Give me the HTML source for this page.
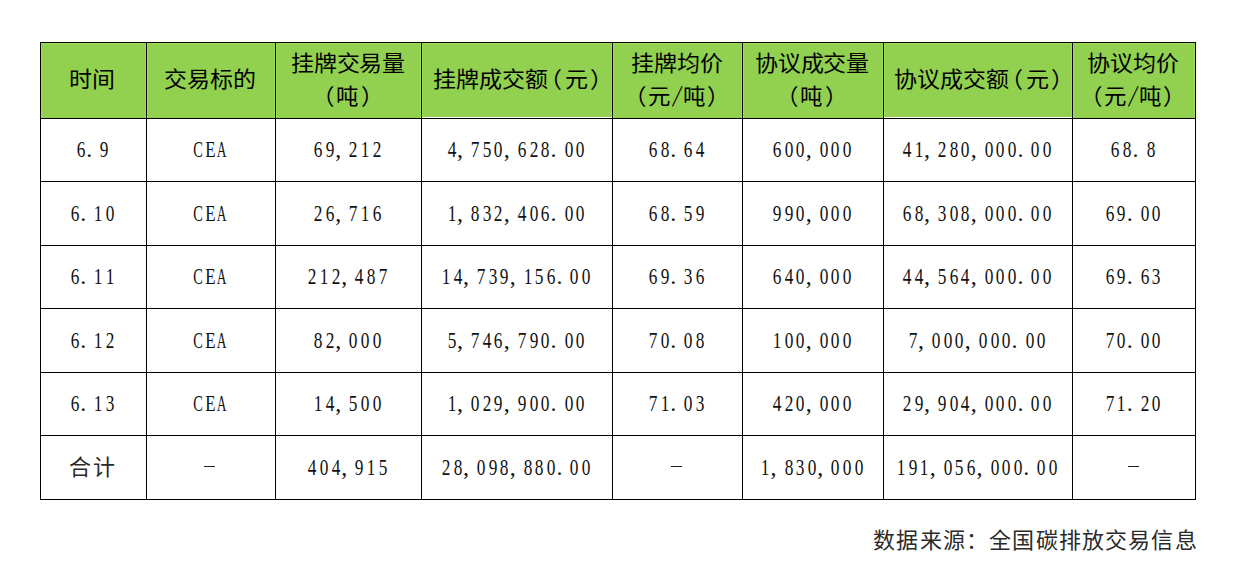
<!DOCTYPE html><html lang="zh-CN"><head><meta charset="utf-8"><style>
*{margin:0;padding:0;box-sizing:border-box}
i,b{font-style:normal;font-weight:normal}
html,body{width:1246px;height:585px;background:#fff;overflow:hidden}
body{position:relative;font-family:"Liberation Sans",sans-serif;color:#000}
.v{position:absolute;width:1px;background:#000}
.h{position:absolute;height:1px;background:#000}
.g{position:absolute;background:#92d050}
.c{position:absolute;display:flex;align-items:center;justify-content:center;text-align:center;white-space:nowrap}
.hd{font-family:"Liberation Sans",sans-serif;font-size:22px;line-height:33px;text-spacing-trim:space-all}
.hd>span{display:inline-block;transform:scaleX(1.045);position:relative;top:-1px;left:-1px}
.l2{display:inline-block;transform:scaleX(0.975)}
.op{margin-right:1.5px}.cp{margin-left:1.8px}.om{margin-left:-9px}.cm{margin-right:-13.7px;margin-left:0.5px}
.sl{display:inline-flex;width:12px;justify-content:center}.sl b{display:block;transform:scaleX(0.47);-webkit-text-stroke:0.6px #000}
.bd{font-family:"Liberation Serif",serif;font-size:24px;line-height:24px;margin-left:-1px;color:#111}
.cj{font-size:22px;text-spacing-trim:space-all;color:#2a2a2a}
.d{display:inline-flex;width:11.7px;justify-content:center}
.d b{font-weight:normal;display:inline-block;transform:scaleX(0.72);position:relative;top:-1px}
.p{display:inline-flex;width:11.7px;justify-content:flex-start}
.p b{font-weight:normal;display:inline-block;margin-left:-0.5px;position:relative;top:-1px}
.l{display:inline-flex;width:11.7px;justify-content:center}
.l b{font-weight:normal;display:inline-block;position:relative;top:-1px}
.dash{position:absolute;height:1px;background:#222;width:11px}
.ft{position:absolute;text-spacing-trim:space-all;font-family:"Liberation Serif",serif;font-size:22px;line-height:22px;letter-spacing:1.19px;white-space:nowrap;color:#2a2a2a}
</style></head><body>
<div class="g" style="left:41px;top:43px;width:1154px;height:75px"></div>
<div style="position:absolute;left:41px;top:43px;width:1px;height:75px;background:#9fe05a"></div>
<div style="position:absolute;left:145px;top:43px;width:1px;height:75px;background:#9fe05a"></div>
<div style="position:absolute;left:147px;top:43px;width:1px;height:75px;background:#9fe05a"></div>
<div style="position:absolute;left:274px;top:43px;width:1px;height:75px;background:#9fe05a"></div>
<div style="position:absolute;left:276px;top:43px;width:1px;height:75px;background:#9fe05a"></div>
<div style="position:absolute;left:420px;top:43px;width:1px;height:75px;background:#9fe05a"></div>
<div style="position:absolute;left:422px;top:43px;width:1px;height:75px;background:#9fe05a"></div>
<div style="position:absolute;left:611px;top:43px;width:1px;height:75px;background:#9fe05a"></div>
<div style="position:absolute;left:613px;top:43px;width:1px;height:75px;background:#9fe05a"></div>
<div style="position:absolute;left:741px;top:43px;width:1px;height:75px;background:#9fe05a"></div>
<div style="position:absolute;left:743px;top:43px;width:1px;height:75px;background:#9fe05a"></div>
<div style="position:absolute;left:882px;top:43px;width:1px;height:75px;background:#9fe05a"></div>
<div style="position:absolute;left:884px;top:43px;width:1px;height:75px;background:#9fe05a"></div>
<div style="position:absolute;left:1071px;top:43px;width:1px;height:75px;background:#9fe05a"></div>
<div style="position:absolute;left:1073px;top:43px;width:1px;height:75px;background:#9fe05a"></div>
<div style="position:absolute;left:1194px;top:43px;width:1px;height:75px;background:#9fe05a"></div>
<div style="position:absolute;left:41px;top:43px;width:1154px;height:1px;background:#9fe05a"></div>
<div style="position:absolute;left:422px;top:117px;width:190px;height:1px;background:#fff"></div>
<div style="position:absolute;left:884px;top:117px;width:188px;height:1px;background:#fff"></div>
<div style="position:absolute;left:41px;top:117px;width:1154px;height:0px"></div>
<div class="v" style="left:40px;top:42px;height:458px"></div>
<div class="v" style="left:146px;top:42px;height:458px"></div>
<div class="v" style="left:275px;top:42px;height:458px"></div>
<div class="v" style="left:421px;top:42px;height:458px"></div>
<div class="v" style="left:612px;top:42px;height:458px"></div>
<div class="v" style="left:742px;top:42px;height:458px"></div>
<div class="v" style="left:883px;top:42px;height:458px"></div>
<div class="v" style="left:1072px;top:42px;height:458px"></div>
<div class="v" style="left:1195px;top:42px;height:458px"></div>
<div class="h" style="left:40px;top:42px;width:1156px"></div>
<div class="h" style="left:40px;top:118px;width:1156px"></div>
<div class="h" style="left:40px;top:181px;width:1156px"></div>
<div class="h" style="left:40px;top:245px;width:1156px"></div>
<div class="h" style="left:40px;top:308px;width:1156px"></div>
<div class="h" style="left:40px;top:372px;width:1156px"></div>
<div class="h" style="left:40px;top:435px;width:1156px"></div>
<div class="h" style="left:40px;top:499px;width:1156px"></div>
<div class="c hd" style="left:41px;top:43px;width:105px;height:75px"><span style="left:-2px">时间</span></div>
<div class="c hd" style="left:147px;top:43px;width:128px;height:75px"><span>交易标的</span></div>
<div class="c hd" style="left:276px;top:43px;width:145px;height:75px"><span>挂牌交易量<br><i class="l2"><i class="op">（</i>吨<i class="cp">）</i></i></span></div>
<div class="c hd" style="left:422px;top:43px;width:190px;height:75px"><span>挂牌成交额<i class="op om"><i class="op">（</i></i>元<i class="cp cm"><i class="cp">）</i></i></span></div>
<div class="c hd" style="left:613px;top:43px;width:129px;height:75px"><span>挂牌均价<br><i class="l2"><i class="op">（</i>元<i class="sl"><b>／</b></i>吨<i class="cp">）</i></i></span></div>
<div class="c hd" style="left:743px;top:43px;width:140px;height:75px"><span>协议成交量<br><i class="l2"><i class="op">（</i>吨<i class="cp">）</i></i></span></div>
<div class="c hd" style="left:884px;top:43px;width:188px;height:75px"><span>协议成交额<i class="op om"><i class="op">（</i></i>元<i class="cp cm"><i class="cp">）</i></i></span></div>
<div class="c hd" style="left:1073px;top:43px;width:122px;height:75px"><span>协议均价<br><i class="l2"><i class="op">（</i>元<i class="sl"><b>／</b></i>吨<i class="cp">）</i></i></span></div>
<div class="c bd" style="left:41px;top:119px;width:105px;height:62px"><i class="d"><b>6</b></i><i class="p"><b>.</b></i><i class="d"><b>9</b></i></div>
<div class="c bd" style="left:147px;top:119px;width:128px;height:62px"><i class="l"><b style="transform:scaleX(0.6)">C</b></i><i class="l"><b style="transform:scaleX(0.7)">E</b></i><i class="l"><b style="transform:scaleX(0.56)">A</b></i></div>
<div class="c bd" style="left:276px;top:119px;width:145px;height:62px"><i class="d"><b>6</b></i><i class="d"><b>9</b></i><i class="p"><b>,</b></i><i class="d"><b>2</b></i><i class="d"><b>1</b></i><i class="d"><b>2</b></i></div>
<div class="c bd" style="left:422px;top:119px;width:190px;height:62px"><i class="d"><b>4</b></i><i class="p"><b>,</b></i><i class="d"><b>7</b></i><i class="d"><b>5</b></i><i class="d"><b>0</b></i><i class="p"><b>,</b></i><i class="d"><b>6</b></i><i class="d"><b>2</b></i><i class="d"><b>8</b></i><i class="p"><b>.</b></i><i class="d"><b>0</b></i><i class="d"><b>0</b></i></div>
<div class="c bd" style="left:613px;top:119px;width:129px;height:62px"><i class="d"><b>6</b></i><i class="d"><b>8</b></i><i class="p"><b>.</b></i><i class="d"><b>6</b></i><i class="d"><b>4</b></i></div>
<div class="c bd" style="left:743px;top:119px;width:140px;height:62px"><i class="d"><b>6</b></i><i class="d"><b>0</b></i><i class="d"><b>0</b></i><i class="p"><b>,</b></i><i class="d"><b>0</b></i><i class="d"><b>0</b></i><i class="d"><b>0</b></i></div>
<div class="c bd" style="left:884px;top:119px;width:188px;height:62px"><i class="d"><b>4</b></i><i class="d"><b>1</b></i><i class="p"><b>,</b></i><i class="d"><b>2</b></i><i class="d"><b>8</b></i><i class="d"><b>0</b></i><i class="p"><b>,</b></i><i class="d"><b>0</b></i><i class="d"><b>0</b></i><i class="d"><b>0</b></i><i class="p"><b>.</b></i><i class="d"><b>0</b></i><i class="d"><b>0</b></i></div>
<div class="c bd" style="left:1073px;top:119px;width:122px;height:62px"><i class="d"><b>6</b></i><i class="d"><b>8</b></i><i class="p"><b>.</b></i><i class="d"><b>8</b></i></div>
<div class="c bd" style="left:41px;top:182px;width:105px;height:63px"><i class="d"><b>6</b></i><i class="p"><b>.</b></i><i class="d"><b>1</b></i><i class="d"><b>0</b></i></div>
<div class="c bd" style="left:147px;top:182px;width:128px;height:63px"><i class="l"><b style="transform:scaleX(0.6)">C</b></i><i class="l"><b style="transform:scaleX(0.7)">E</b></i><i class="l"><b style="transform:scaleX(0.56)">A</b></i></div>
<div class="c bd" style="left:276px;top:182px;width:145px;height:63px"><i class="d"><b>2</b></i><i class="d"><b>6</b></i><i class="p"><b>,</b></i><i class="d"><b>7</b></i><i class="d"><b>1</b></i><i class="d"><b>6</b></i></div>
<div class="c bd" style="left:422px;top:182px;width:190px;height:63px"><i class="d"><b>1</b></i><i class="p"><b>,</b></i><i class="d"><b>8</b></i><i class="d"><b>3</b></i><i class="d"><b>2</b></i><i class="p"><b>,</b></i><i class="d"><b>4</b></i><i class="d"><b>0</b></i><i class="d"><b>6</b></i><i class="p"><b>.</b></i><i class="d"><b>0</b></i><i class="d"><b>0</b></i></div>
<div class="c bd" style="left:613px;top:182px;width:129px;height:63px"><i class="d"><b>6</b></i><i class="d"><b>8</b></i><i class="p"><b>.</b></i><i class="d"><b>5</b></i><i class="d"><b>9</b></i></div>
<div class="c bd" style="left:743px;top:182px;width:140px;height:63px"><i class="d"><b>9</b></i><i class="d"><b>9</b></i><i class="d"><b>0</b></i><i class="p"><b>,</b></i><i class="d"><b>0</b></i><i class="d"><b>0</b></i><i class="d"><b>0</b></i></div>
<div class="c bd" style="left:884px;top:182px;width:188px;height:63px"><i class="d"><b>6</b></i><i class="d"><b>8</b></i><i class="p"><b>,</b></i><i class="d"><b>3</b></i><i class="d"><b>0</b></i><i class="d"><b>8</b></i><i class="p"><b>,</b></i><i class="d"><b>0</b></i><i class="d"><b>0</b></i><i class="d"><b>0</b></i><i class="p"><b>.</b></i><i class="d"><b>0</b></i><i class="d"><b>0</b></i></div>
<div class="c bd" style="left:1073px;top:182px;width:122px;height:63px"><i class="d"><b>6</b></i><i class="d"><b>9</b></i><i class="p"><b>.</b></i><i class="d"><b>0</b></i><i class="d"><b>0</b></i></div>
<div class="c bd" style="left:41px;top:246px;width:105px;height:62px"><i class="d"><b>6</b></i><i class="p"><b>.</b></i><i class="d"><b>1</b></i><i class="d"><b>1</b></i></div>
<div class="c bd" style="left:147px;top:246px;width:128px;height:62px"><i class="l"><b style="transform:scaleX(0.6)">C</b></i><i class="l"><b style="transform:scaleX(0.7)">E</b></i><i class="l"><b style="transform:scaleX(0.56)">A</b></i></div>
<div class="c bd" style="left:276px;top:246px;width:145px;height:62px"><i class="d"><b>2</b></i><i class="d"><b>1</b></i><i class="d"><b>2</b></i><i class="p"><b>,</b></i><i class="d"><b>4</b></i><i class="d"><b>8</b></i><i class="d"><b>7</b></i></div>
<div class="c bd" style="left:422px;top:246px;width:190px;height:62px"><i class="d"><b>1</b></i><i class="d"><b>4</b></i><i class="p"><b>,</b></i><i class="d"><b>7</b></i><i class="d"><b>3</b></i><i class="d"><b>9</b></i><i class="p"><b>,</b></i><i class="d"><b>1</b></i><i class="d"><b>5</b></i><i class="d"><b>6</b></i><i class="p"><b>.</b></i><i class="d"><b>0</b></i><i class="d"><b>0</b></i></div>
<div class="c bd" style="left:613px;top:246px;width:129px;height:62px"><i class="d"><b>6</b></i><i class="d"><b>9</b></i><i class="p"><b>.</b></i><i class="d"><b>3</b></i><i class="d"><b>6</b></i></div>
<div class="c bd" style="left:743px;top:246px;width:140px;height:62px"><i class="d"><b>6</b></i><i class="d"><b>4</b></i><i class="d"><b>0</b></i><i class="p"><b>,</b></i><i class="d"><b>0</b></i><i class="d"><b>0</b></i><i class="d"><b>0</b></i></div>
<div class="c bd" style="left:884px;top:246px;width:188px;height:62px"><i class="d"><b>4</b></i><i class="d"><b>4</b></i><i class="p"><b>,</b></i><i class="d"><b>5</b></i><i class="d"><b>6</b></i><i class="d"><b>4</b></i><i class="p"><b>,</b></i><i class="d"><b>0</b></i><i class="d"><b>0</b></i><i class="d"><b>0</b></i><i class="p"><b>.</b></i><i class="d"><b>0</b></i><i class="d"><b>0</b></i></div>
<div class="c bd" style="left:1073px;top:246px;width:122px;height:62px"><i class="d"><b>6</b></i><i class="d"><b>9</b></i><i class="p"><b>.</b></i><i class="d"><b>6</b></i><i class="d"><b>3</b></i></div>
<div class="c bd" style="left:41px;top:309px;width:105px;height:63px"><i class="d"><b>6</b></i><i class="p"><b>.</b></i><i class="d"><b>1</b></i><i class="d"><b>2</b></i></div>
<div class="c bd" style="left:147px;top:309px;width:128px;height:63px"><i class="l"><b style="transform:scaleX(0.6)">C</b></i><i class="l"><b style="transform:scaleX(0.7)">E</b></i><i class="l"><b style="transform:scaleX(0.56)">A</b></i></div>
<div class="c bd" style="left:276px;top:309px;width:145px;height:63px"><i class="d"><b>8</b></i><i class="d"><b>2</b></i><i class="p"><b>,</b></i><i class="d"><b>0</b></i><i class="d"><b>0</b></i><i class="d"><b>0</b></i></div>
<div class="c bd" style="left:422px;top:309px;width:190px;height:63px"><i class="d"><b>5</b></i><i class="p"><b>,</b></i><i class="d"><b>7</b></i><i class="d"><b>4</b></i><i class="d"><b>6</b></i><i class="p"><b>,</b></i><i class="d"><b>7</b></i><i class="d"><b>9</b></i><i class="d"><b>0</b></i><i class="p"><b>.</b></i><i class="d"><b>0</b></i><i class="d"><b>0</b></i></div>
<div class="c bd" style="left:613px;top:309px;width:129px;height:63px"><i class="d"><b>7</b></i><i class="d"><b>0</b></i><i class="p"><b>.</b></i><i class="d"><b>0</b></i><i class="d"><b>8</b></i></div>
<div class="c bd" style="left:743px;top:309px;width:140px;height:63px"><i class="d"><b>1</b></i><i class="d"><b>0</b></i><i class="d"><b>0</b></i><i class="p"><b>,</b></i><i class="d"><b>0</b></i><i class="d"><b>0</b></i><i class="d"><b>0</b></i></div>
<div class="c bd" style="left:884px;top:309px;width:188px;height:63px"><i class="d"><b>7</b></i><i class="p"><b>,</b></i><i class="d"><b>0</b></i><i class="d"><b>0</b></i><i class="d"><b>0</b></i><i class="p"><b>,</b></i><i class="d"><b>0</b></i><i class="d"><b>0</b></i><i class="d"><b>0</b></i><i class="p"><b>.</b></i><i class="d"><b>0</b></i><i class="d"><b>0</b></i></div>
<div class="c bd" style="left:1073px;top:309px;width:122px;height:63px"><i class="d"><b>7</b></i><i class="d"><b>0</b></i><i class="p"><b>.</b></i><i class="d"><b>0</b></i><i class="d"><b>0</b></i></div>
<div class="c bd" style="left:41px;top:373px;width:105px;height:62px"><i class="d"><b>6</b></i><i class="p"><b>.</b></i><i class="d"><b>1</b></i><i class="d"><b>3</b></i></div>
<div class="c bd" style="left:147px;top:373px;width:128px;height:62px"><i class="l"><b style="transform:scaleX(0.6)">C</b></i><i class="l"><b style="transform:scaleX(0.7)">E</b></i><i class="l"><b style="transform:scaleX(0.56)">A</b></i></div>
<div class="c bd" style="left:276px;top:373px;width:145px;height:62px"><i class="d"><b>1</b></i><i class="d"><b>4</b></i><i class="p"><b>,</b></i><i class="d"><b>5</b></i><i class="d"><b>0</b></i><i class="d"><b>0</b></i></div>
<div class="c bd" style="left:422px;top:373px;width:190px;height:62px"><i class="d"><b>1</b></i><i class="p"><b>,</b></i><i class="d"><b>0</b></i><i class="d"><b>2</b></i><i class="d"><b>9</b></i><i class="p"><b>,</b></i><i class="d"><b>9</b></i><i class="d"><b>0</b></i><i class="d"><b>0</b></i><i class="p"><b>.</b></i><i class="d"><b>0</b></i><i class="d"><b>0</b></i></div>
<div class="c bd" style="left:613px;top:373px;width:129px;height:62px"><i class="d"><b>7</b></i><i class="d"><b>1</b></i><i class="p"><b>.</b></i><i class="d"><b>0</b></i><i class="d"><b>3</b></i></div>
<div class="c bd" style="left:743px;top:373px;width:140px;height:62px"><i class="d"><b>4</b></i><i class="d"><b>2</b></i><i class="d"><b>0</b></i><i class="p"><b>,</b></i><i class="d"><b>0</b></i><i class="d"><b>0</b></i><i class="d"><b>0</b></i></div>
<div class="c bd" style="left:884px;top:373px;width:188px;height:62px"><i class="d"><b>2</b></i><i class="d"><b>9</b></i><i class="p"><b>,</b></i><i class="d"><b>9</b></i><i class="d"><b>0</b></i><i class="d"><b>4</b></i><i class="p"><b>,</b></i><i class="d"><b>0</b></i><i class="d"><b>0</b></i><i class="d"><b>0</b></i><i class="p"><b>.</b></i><i class="d"><b>0</b></i><i class="d"><b>0</b></i></div>
<div class="c bd" style="left:1073px;top:373px;width:122px;height:62px"><i class="d"><b>7</b></i><i class="d"><b>1</b></i><i class="p"><b>.</b></i><i class="d"><b>2</b></i><i class="d"><b>0</b></i></div>
<div class="c bd cj" style="left:41px;top:436px;width:105px;height:63px;letter-spacing:1.5px;padding-right:2px;margin-left:0">合计</div>
<div class="dash" style="left:204px;top:466px"></div>
<div class="c bd" style="left:276px;top:436px;width:145px;height:63px"><i class="d"><b>4</b></i><i class="d"><b>0</b></i><i class="d"><b>4</b></i><i class="p"><b>,</b></i><i class="d"><b>9</b></i><i class="d"><b>1</b></i><i class="d"><b>5</b></i></div>
<div class="c bd" style="left:422px;top:436px;width:190px;height:63px"><i class="d"><b>2</b></i><i class="d"><b>8</b></i><i class="p"><b>,</b></i><i class="d"><b>0</b></i><i class="d"><b>9</b></i><i class="d"><b>8</b></i><i class="p"><b>,</b></i><i class="d"><b>8</b></i><i class="d"><b>8</b></i><i class="d"><b>0</b></i><i class="p"><b>.</b></i><i class="d"><b>0</b></i><i class="d"><b>0</b></i></div>
<div class="dash" style="left:671px;top:466px"></div>
<div class="c bd" style="left:743px;top:436px;width:140px;height:63px"><i class="d"><b>1</b></i><i class="p"><b>,</b></i><i class="d"><b>8</b></i><i class="d"><b>3</b></i><i class="d"><b>0</b></i><i class="p"><b>,</b></i><i class="d"><b>0</b></i><i class="d"><b>0</b></i><i class="d"><b>0</b></i></div>
<div class="c bd" style="left:884px;top:436px;width:188px;height:63px"><i class="d"><b>1</b></i><i class="d"><b>9</b></i><i class="d"><b>1</b></i><i class="p"><b>,</b></i><i class="d"><b>0</b></i><i class="d"><b>5</b></i><i class="d"><b>6</b></i><i class="p"><b>,</b></i><i class="d"><b>0</b></i><i class="d"><b>0</b></i><i class="d"><b>0</b></i><i class="p"><b>.</b></i><i class="d"><b>0</b></i><i class="d"><b>0</b></i></div>
<div class="dash" style="left:1128px;top:466px"></div>
<div class="ft" style="left:873.2px;top:529.5px">数据来源：全国碳排放交易信息</div>
</body></html>
